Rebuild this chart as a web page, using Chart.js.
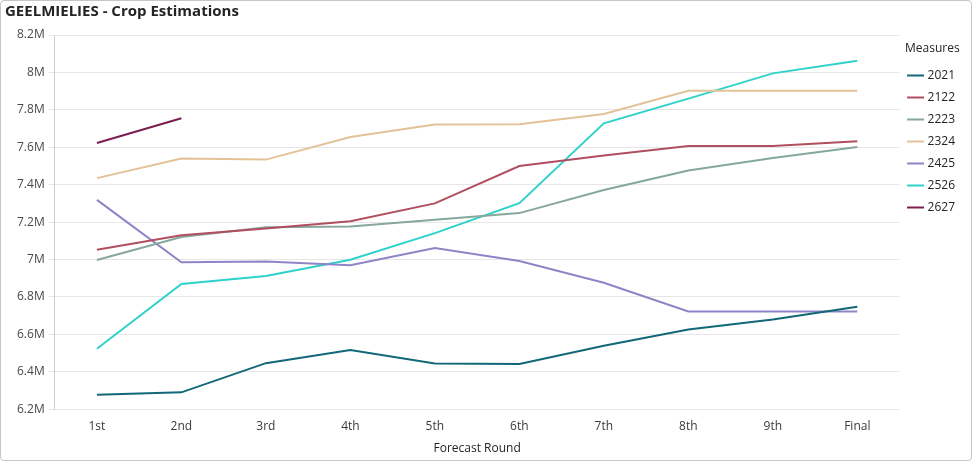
<!DOCTYPE html>
<html>
<head>
<meta charset="utf-8">
<script src="https://cdn.jsdelivr.net/npm/chart.js@4"></script>
<style>
  html, body { margin: 0; padding: 0; background: #fff; }
  #wrap {
    width: 972px; height: 461px; box-sizing: border-box;
    border: 1px solid #c8c6c4; border-radius: 4px; position: relative;
  }
  #chart { display: block; }
</style>
</head>
<body>
<div id="wrap"><canvas id="chart" width="970" height="459"></canvas></div>
<script>
// Rondas de pronóstico
const rounds = ['1st', '2nd', '3rd', '4th', '5th', '6th', '7th', '8th', '9th', 'Final'];

// Estimaciones por temporada (toneladas)
const s2021 = [6277000, 6290000, 6446000, 6517000, 6444000, 6442000, 6539000, 6626000, 6679000, 6747000];
const s2122 = [7052000, 7130000, 7166000, 7204000, 7300000, 7500000, 7556000, 7607000, 7607000, 7632000];
const s2223 = [6997000, 7120000, 7172000, 7177000, 7212000, 7248000, 7372000, 7476000, 7543000, 7602000];
const s2324 = [7435000, 7540000, 7534000, 7655000, 7721000, 7723000, 7778000, 7902000, 7902000, 7902000];
const s2425 = [7319000, 6985000, 6990000, 6969000, 7061000, 6992000, 6876000, 6722000, 6722000, 6722000];
const s2526 = [6523000, 6869000, 6912000, 6999000, 7141000, 7301000, 7728000, 7860000, 7995000, 8062000];
const s2627 = [7623000, 7755000, null, null, null, null, null, null, null, null];

const seriesNames = ['2021', '2122', '2223', '2324', '2425', '2526', '2627'];
const seriesData = [s2021, s2122, s2223, s2324, s2425, s2526, s2627];
const seriesColors = ['#126878', '#b14f5e', '#86a89c', '#e4c297', '#8c85c6', '#2fd2ca', '#7a1f50'];

const yMin = 6200000, yMax = 8200000, yStep = 200000;

function fmtM(v) {
  let s = (v / 1e6).toFixed(1);
  if (s.endsWith('.0')) s = s.slice(0, -2);
  return s + 'M';
}

const FONT = "'Open Sans', 'Noto Sans', sans-serif";

const datasets = seriesNames.map((name, i) => ({
  label: name,
  data: seriesData[i],
  borderColor: seriesColors[i],
  backgroundColor: seriesColors[i],
  borderWidth: 2,
  pointRadius: 0,
  pointHoverRadius: 0,
  tension: 0,
  spanGaps: false
}));

new Chart(document.getElementById('chart'), {
  type: 'line',
  data: { labels: rounds, datasets },
  options: {
    responsive: false,
    animation: false,
    layout: { padding: { left: 4, right: 6, top: 2, bottom: 4 } },
    plugins: {
      title: {
        display: true,
        text: 'GEELMIELIES - Crop Estimations',
        align: 'start',
        color: '#252423',
        font: { family: FONT, size: 15, weight: 'bold' },
        padding: { top: 0, bottom: 14 }
      },
      legend: {
        position: 'right',
        align: 'start',
        title: {
          display: true,
          text: 'Measures',
          color: '#252423',
          font: { family: FONT, size: 12 },
          padding: { top: 40, bottom: 2 }
        },
        labels: {
          usePointStyle: true,
          pointStyle: 'line',
          boxWidth: 12,
          boxHeight: 12,
          padding: 10,
          color: '#252423',
          font: { family: FONT, size: 12 }
        }
      },
      tooltip: { enabled: false }
    },
    scales: {
      x: {
        offset: true,
        grid: { display: false },
        border: { display: false },
        ticks: { color: '#3b3a39', font: { family: FONT, size: 12 }, padding: 2 },
        title: {
          display: true,
          text: 'Forecast Round',
          color: '#252423',
          font: { family: FONT, size: 12 },
          padding: { top: 6, bottom: 0 }
        }
      },
      y: {
        min: yMin,
        max: yMax,
        afterFit: scale => { scale.width += 8; },
        grid: { color: '#e6e6e6', lineWidth: 1, tickLength: 6 },
        border: { display: true, color: '#d0d0d0' },
        ticks: {
          stepSize: yStep,
          color: '#4a4948',
          font: { family: FONT, size: 12 },
          padding: 4,
          callback: v => fmtM(v)
        }
      }
    }
  }
});
</script>
</body>
</html>
